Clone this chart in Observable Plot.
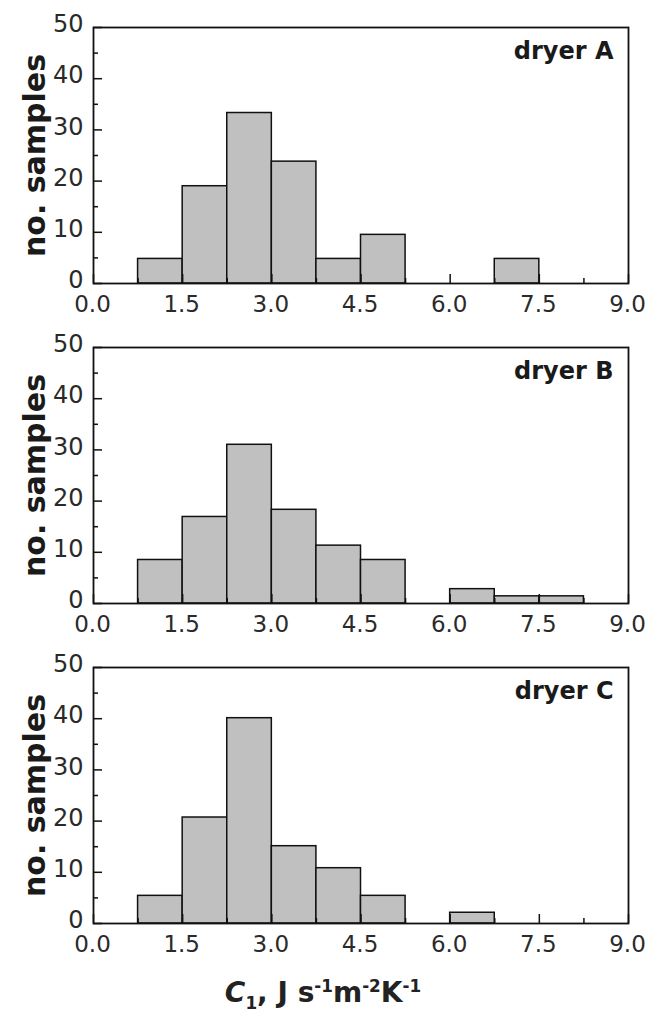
<!DOCTYPE html>
<html>
<head>
<meta charset="utf-8">
<script src="https://cdn.jsdelivr.net/npm/d3@7"></script>
<script src="https://cdn.jsdelivr.net/npm/@observablehq/plot@0.6"></script>
<style>
  body { margin: 0; background: #fff; width: 646px; }
  svg { display: block; }
  #xlabel { font-family: "DejaVu Sans", sans-serif; font-weight: bold; font-size: 28px; color: #222;
            text-align: center; height: 57px; line-height: 57px; padding-top: 4px; }
  #xlabel sub, #xlabel sup { font-size: 60%; line-height: 0; }
</style>
</head>
<body>
<div id="chart"></div>
<div id="xlabel"><i>C</i><sub>1</sub>, J s<sup>-1</sup>m<sup>-2</sup>K<sup>-1</sup></div>
<script>
// ---- data (percentage of samples per bin) ----
const panelNames = ["dryer A", "dryer B", "dryer C"];
const binWidth = 0.75;

const binStartA = [0.75, 1.5, 2.25, 3.0, 3.75, 4.5, 6.75];
const valuesA   = [4.8, 19.0, 33.3, 23.8, 4.8, 9.5, 4.8];

const binStartB = [0.75, 1.5, 2.25, 3.0, 3.75, 4.5, 6.0, 6.75, 7.5];
const valuesB   = [8.5, 16.9, 31.0, 18.3, 11.3, 8.5, 2.8, 1.4, 1.4];

const binStartC = [0.75, 1.5, 2.25, 3.0, 3.75, 4.5, 6.0];
const valuesC   = [5.4, 20.7, 40.1, 15.1, 10.8, 5.4, 2.1];

const xTicks = [0, 1.5, 3, 4.5, 6, 7.5, 9];
const xTickLabels = ["0.0", "1.5", "3.0", "4.5", "6.0", "7.5", "9.0"];
const xMinorTicks = [0.75, 2.25, 3.75, 5.25, 6.75, 8.25];
const yTicks = [0, 10, 20, 30, 40, 50];
const yMinorTicks = [5, 15, 25, 35, 45];
const yLabel = "no. samples";

// ---- layout ----
const W = 646, H = 320, mT = 27, mB = 37, mL = 93, mR = 18;
const frameW = W - mL - mR, frameH = H - mT - mB;
const ink = "#111";

function panel(name, starts, values) {
  const data = starts.map((s, i) => ({x1: s, x2: s + binWidth, y: values[i]}));
  return Plot.plot({
    width: W, height: H,
    marginTop: mT, marginBottom: mB, marginLeft: mL, marginRight: mR,
    x: {domain: [0, 9]},
    y: {domain: [0, 50]},
    style: {fontFamily: "'DejaVu Sans', sans-serif", fontSize: "24px", color: "#2a2a2a", background: "white"},
    marks: [
      Plot.rectY(data, {x1: "x1", x2: "x2", y: "y", fill: "#c0c0c0", stroke: ink, strokeWidth: 1.5}),
      Plot.ruleY(yTicks, {insetRight: frameW - 9, stroke: ink, strokeWidth: 1.5}),
      Plot.ruleY(yMinorTicks, {insetRight: frameW - 5, stroke: ink, strokeWidth: 1.5}),
      Plot.ruleX(xTicks, {insetTop: frameH - 9, stroke: ink, strokeWidth: 1.5}),
      Plot.ruleX(xMinorTicks, {insetTop: frameH - 5, stroke: ink, strokeWidth: 1.5}),
      Plot.axisY({ticks: yTicks, tickSize: 0, tickPadding: 10, dy: -3, label: null, tickFormat: d => String(d)}),
      Plot.axisX({ticks: xTicks, tickSize: 0, tickPadding: 12, label: null, fontSize: 23, dx: -1,
                  tickFormat: d => xTickLabels[xTicks.indexOf(d)]}),
      Plot.frame({stroke: ink, strokeWidth: 1.8}),
      Plot.text([name], {frameAnchor: "top-right", textAnchor: "end", lineAnchor: "top",
                         dx: -15, dy: 14, fontWeight: "bold", fontSize: 24, fill: "#1a1a1a"}),
      Plot.text([yLabel], {frameAnchor: "left", textAnchor: "middle", rotate: -90, dx: -58,
                           fontWeight: "bold", fontSize: 30, fill: "#1a1a1a"})
    ]
  });
}

const chart = document.getElementById("chart");
chart.appendChild(panel(panelNames[0], binStartA, valuesA));
chart.appendChild(panel(panelNames[1], binStartB, valuesB));
chart.appendChild(panel(panelNames[2], binStartC, valuesC));
</script>
</body>
</html>
